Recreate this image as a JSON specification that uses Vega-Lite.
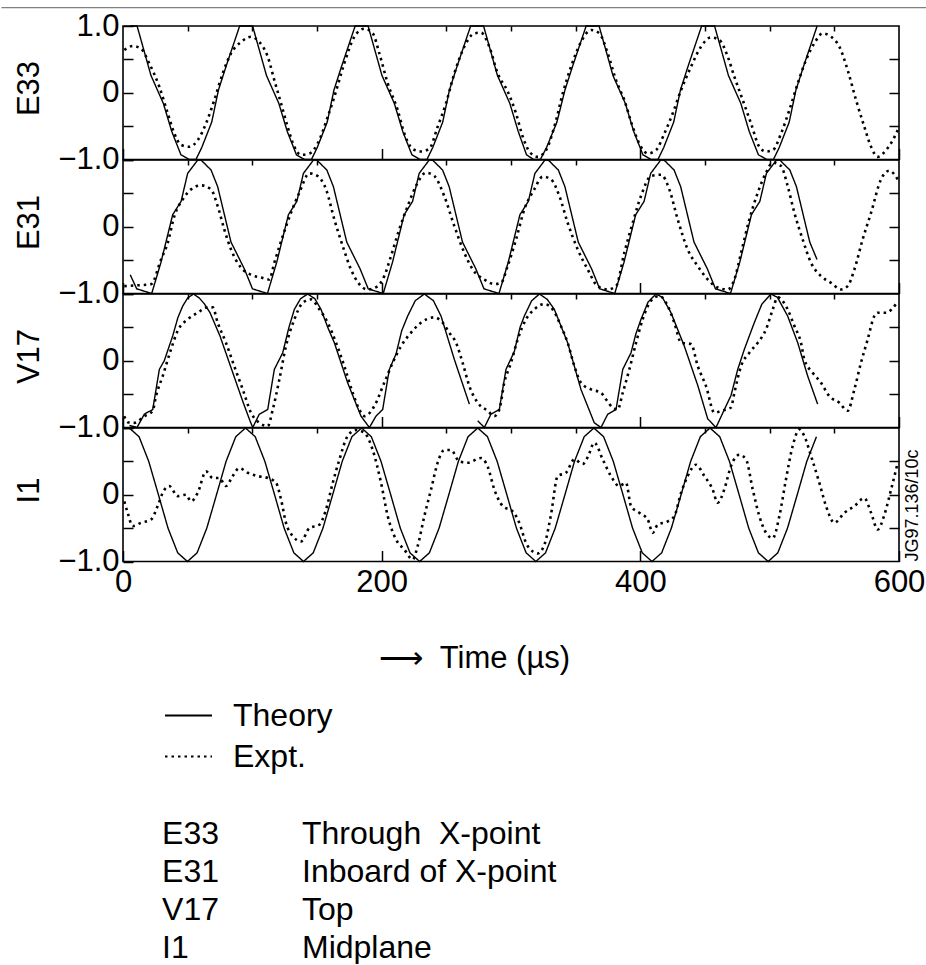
{
"$schema": "https://vega.github.io/schema/vega-lite/v6.json",
"padding": {"left": 0, "top": 6, "right": 0, "bottom": 0},
"background": "white",
"config": {
  "font": "Liberation Sans",
  "view": {"stroke": "#000", "strokeWidth": 1.6},
  "axis": {"labelFont": "Liberation Sans", "titleFont": "Liberation Sans", "labelColor": "#000", "titleColor": "#000", "tickColor": "#000", "titleFontWeight": "normal", "grid": false, "domain": false},
  "legend": {"labelFont": "Liberation Sans", "labelFontSize": 32, "labelColor": "#000", "symbolType": "stroke", "symbolSize": 2209, "symbolStrokeWidth": 1.8, "symbolStrokeColor": "#000", "labelOffset": 20, "rowPadding": 0, "padding": 0}
},
"datasets": {
"e33t": [{"t":5.6,"v":1},{"t":10.9,"v":1},{"t":16.4,"v":0.62},{"t":21.6,"v":0.26},{"t":31.2,"v":-0.16},{"t":37.7,"v":-0.58},{"t":44.8,"v":-0.93},{"t":51.2,"v":-1},{"t":56.4,"v":-1},{"t":60.9,"v":-0.82},{"t":68.6,"v":-0.44},{"t":73.8,"v":0.04},{"t":79.6,"v":0.39},
{"t":90.2,"v":1},{"t":100.2,"v":1},{"t":105.7,"v":0.62},{"t":110.9,"v":0.26},{"t":120.5,"v":-0.16},{"t":127,"v":-0.58},{"t":134.1,"v":-0.93},{"t":140.5,"v":-1},{"t":145.7,"v":-1},{"t":150.2,"v":-0.82},{"t":157.9,"v":-0.44},{"t":163.1,"v":0.04},{"t":168.9,"v":0.39},
{"t":179.5,"v":1},{"t":189.5,"v":1},{"t":195,"v":0.62},{"t":200.2,"v":0.26},{"t":209.8,"v":-0.16},{"t":216.3,"v":-0.58},{"t":223.4,"v":-0.93},{"t":229.8,"v":-1},{"t":235,"v":-1},{"t":239.5,"v":-0.82},{"t":247.2,"v":-0.44},{"t":252.4,"v":0.04},{"t":258.2,"v":0.39},
{"t":268.8,"v":1},{"t":278.8,"v":1},{"t":284.3,"v":0.62},{"t":289.5,"v":0.26},{"t":299.1,"v":-0.16},{"t":305.6,"v":-0.58},{"t":312,"v":-0.93},{"t":317.5,"v":-1},{"t":322.7,"v":-1},{"t":327.5,"v":-0.82},{"t":335.5,"v":-0.44},{"t":341.7,"v":0.04},{"t":347.5,"v":0.39},
{"t":358.1,"v":1},{"t":368.1,"v":1},{"t":373.6,"v":0.62},{"t":378.8,"v":0.26},{"t":388.4,"v":-0.16},{"t":394.9,"v":-0.58},{"t":402,"v":-0.93},{"t":408.4,"v":-1},{"t":413.6,"v":-1},{"t":418.1,"v":-0.82},{"t":425.8,"v":-0.44},{"t":431,"v":0.04},{"t":436.8,"v":0.39},
{"t":447.4,"v":1},{"t":457.4,"v":1},{"t":462.9,"v":0.62},{"t":468.1,"v":0.26},{"t":477.7,"v":-0.16},{"t":484.2,"v":-0.58},{"t":491.3,"v":-0.93},{"t":497.7,"v":-1},{"t":502.9,"v":-1},{"t":507.4,"v":-0.82},{"t":515.1,"v":-0.44},{"t":520.3,"v":0.04},{"t":526.1,"v":0.39},{"t":536.7,"v":1}],
"e33x": [{"t":1,"v":0.64},{"t":7.5,"v":0.7},{"t":13.9,"v":0.66},{"t":20.3,"v":0.44},{"t":28.1,"v":0.09},{"t":34.6,"v":-0.31},{"t":39.7,"v":-0.61},{"t":44.8,"v":-0.78},{"t":51.3,"v":-0.81},{"t":57.8,"v":-0.71},{"t":64.2,"v":-0.46},{"t":70.6,"v":-0.11},{"t":77.1,"v":0.29},{"t":83.5,"v":0.59},{"t":91.2,"v":0.76},{"t":99,"v":0.84},{"t":105.4,"v":0.76},{"t":111.9,"v":0.54},{"t":117,"v":0.19},{"t":122.2,"v":-0.16},{"t":127.3,"v":-0.51},{"t":132.5,"v":-0.81},{"t":137.6,"v":-0.93},{"t":144.1,"v":-0.91},{"t":150.5,"v":-0.76},{"t":158.3,"v":-0.36},{"t":163.4,"v":-0.06},{"t":171.1,"v":0.44},{"t":178.9,"v":0.84},{"t":186.6,"v":0.96},{"t":193.1,"v":0.89},{"t":198.2,"v":0.59},{"t":204.7,"v":0.14},{"t":212.4,"v":-0.26},{"t":217.5,"v":-0.61},{"t":224,"v":-0.84},{"t":230.4,"v":-0.88},{"t":236.8,"v":-0.84},{"t":243.3,"v":-0.51},{"t":249.7,"v":-0.16},{"t":256.2,"v":0.29},{"t":263.9,"v":0.69},{"t":271.6,"v":0.89},{"t":276.8,"v":0.9},{"t":283.2,"v":0.69},{"t":289.7,"v":0.29},{"t":297.4,"v":0.02},{"t":303.9,"v":-0.31},{"t":309.1,"v":-0.66},{"t":314.2,"v":-0.88},{"t":320.6,"v":-0.96},{"t":327.1,"v":-0.86},{"t":333.5,"v":-0.51},{"t":340,"v":-0.01},{"t":346.4,"v":0.39},{"t":354.1,"v":0.76},{"t":361.9,"v":0.94},{"t":368.3,"v":0.89},{"t":374.8,"v":0.59},{"t":381.2,"v":0.19},{"t":387.6,"v":-0.11},{"t":394.1,"v":-0.51},{"t":400.5,"v":-0.81},{"t":405.7,"v":-0.91},{"t":412.1,"v":-0.86},{"t":418.6,"v":-0.61},{"t":425,"v":-0.31},{"t":431.5,"v":0.04},{"t":439.2,"v":0.39},{"t":446.9,"v":0.69},{"t":454.7,"v":0.83},{"t":461.1,"v":0.79},{"t":467.6,"v":0.54},{"t":472.7,"v":0.24},{"t":479.2,"v":-0.11},{"t":485.6,"v":-0.46},{"t":492,"v":-0.81},{"t":497.2,"v":-0.88},{"t":502.4,"v":-0.86},{"t":508.8,"v":-0.61},{"t":515.2,"v":-0.26},{"t":521.7,"v":0.14},{"t":528.1,"v":0.49},{"t":534.5,"v":0.74},{"t":541,"v":0.89},{"t":547.4,"v":0.84},{"t":553.9,"v":0.69},{"t":560.3,"v":0.34},{"t":566.8,"v":-0.11},{"t":573.2,"v":-0.51},{"t":578.4,"v":-0.81},{"t":583.5,"v":-0.96},{"t":590,"v":-0.86},{"t":595.2,"v":-0.71},{"t":599,"v":-0.56}],
"e31t": [{"t":5.6,"v":-0.72},{"t":10.6,"v":-0.93},
{"t":22.2,"v":-1},{"t":29.4,"v":-0.53},{"t":38.4,"v":0.18},{"t":44.9,"v":0.38},{"t":50,"v":0.8},{"t":57.8,"v":1},{"t":60.3,"v":1},{"t":68.1,"v":0.85},{"t":73.2,"v":0.6},{"t":83.5,"v":-0.23},{"t":93.8,"v":-0.63},{"t":100.1,"v":-0.93},
{"t":111.7,"v":-1},{"t":118.9,"v":-0.53},{"t":127.9,"v":0.18},{"t":134.4,"v":0.38},{"t":139.5,"v":0.8},{"t":147.3,"v":1},{"t":149.8,"v":1},{"t":157.6,"v":0.85},{"t":162.7,"v":0.6},{"t":173,"v":-0.23},{"t":183.3,"v":-0.63},{"t":189.6,"v":-0.93},
{"t":201.2,"v":-1},{"t":208.4,"v":-0.53},{"t":217.4,"v":0.18},{"t":223.9,"v":0.38},{"t":229,"v":0.8},{"t":236.8,"v":1},{"t":239.3,"v":1},{"t":247.1,"v":0.85},{"t":252.2,"v":0.6},{"t":262.5,"v":-0.23},{"t":272.8,"v":-0.63},{"t":279.1,"v":-0.93},
{"t":290.7,"v":-1},{"t":297.9,"v":-0.53},{"t":306.9,"v":0.18},{"t":313.4,"v":0.38},{"t":318.5,"v":0.8},{"t":326.3,"v":1},{"t":328.8,"v":1},{"t":336.6,"v":0.85},{"t":341.7,"v":0.6},{"t":352,"v":-0.23},{"t":362.3,"v":-0.63},{"t":368.6,"v":-0.93},
{"t":380.2,"v":-1},{"t":387.4,"v":-0.53},{"t":396.4,"v":0.18},{"t":402.9,"v":0.38},{"t":408,"v":0.8},{"t":415.8,"v":1},{"t":418.3,"v":1},{"t":426.1,"v":0.85},{"t":431.2,"v":0.6},{"t":441.5,"v":-0.23},{"t":451.8,"v":-0.63},{"t":458.1,"v":-0.93},
{"t":469.7,"v":-1},{"t":476.9,"v":-0.53},{"t":485.9,"v":0.18},{"t":492.4,"v":0.38},{"t":497.5,"v":0.8},{"t":505.3,"v":1},{"t":507.8,"v":1},{"t":515.6,"v":0.85},{"t":520.7,"v":0.6},{"t":531,"v":-0.23},{"t":536.6,"v":-0.49}],
"e31x": [{"t":1,"v":-0.89},{"t":8.7,"v":-0.88},{"t":21.7,"v":-0.86},{"t":29.4,"v":-0.49},{"t":34.6,"v":-0.24},{"t":39.7,"v":0.16},{"t":46.2,"v":0.41},{"t":52.6,"v":0.56},{"t":60.3,"v":0.62},{"t":68,"v":0.56},{"t":73.2,"v":0.31},{"t":78.3,"v":-0.04},{"t":83.5,"v":-0.34},{"t":91.2,"v":-0.61},{"t":99,"v":-0.72},{"t":106.7,"v":-0.76},{"t":113.1,"v":-0.79},{"t":117,"v":-0.54},{"t":123.5,"v":-0.14},{"t":129.9,"v":0.21},{"t":136.3,"v":0.51},{"t":144.1,"v":0.8},{"t":150.5,"v":0.76},{"t":157,"v":0.56},{"t":163.4,"v":0.11},{"t":169.9,"v":-0.29},{"t":176.3,"v":-0.64},{"t":182.7,"v":-0.86},{"t":189.2,"v":-0.94},{"t":196.9,"v":-0.89},{"t":202,"v":-0.74},{"t":207.2,"v":-0.44},{"t":213.6,"v":-0.04},{"t":220.1,"v":0.31},{"t":226.5,"v":0.61},{"t":234.3,"v":0.81},{"t":240.7,"v":0.76},{"t":248.4,"v":0.46},{"t":256.2,"v":0.01},{"t":263.9,"v":-0.39},{"t":270.4,"v":-0.64},{"t":279.4,"v":-0.79},{"t":287.1,"v":-0.86},{"t":292.3,"v":-0.84},{"t":297.4,"v":-0.59},{"t":303.9,"v":-0.19},{"t":310.3,"v":0.26},{"t":318,"v":0.56},{"t":324.5,"v":0.75},{"t":330.9,"v":0.71},{"t":337.4,"v":0.46},{"t":343.8,"v":0.06},{"t":351.6,"v":-0.34},{"t":359.3,"v":-0.64},{"t":367,"v":-0.89},{"t":374.8,"v":-0.94},{"t":381.2,"v":-0.89},{"t":387.6,"v":-0.39},{"t":394.1,"v":0.06},{"t":400.5,"v":0.46},{"t":408.3,"v":0.76},{"t":416,"v":0.78},{"t":422.4,"v":0.56},{"t":428.9,"v":0.11},{"t":436.6,"v":-0.34},{"t":444.4,"v":-0.59},{"t":452.1,"v":-0.79},{"t":459.8,"v":-0.91},{"t":467.6,"v":-0.94},{"t":472.7,"v":-0.79},{"t":477.9,"v":-0.39},{"t":484.3,"v":0.11},{"t":490.8,"v":0.51},{"t":497.2,"v":0.81},{"t":502.3,"v":0.96},{"t":508.8,"v":0.91},{"t":513.9,"v":0.61},{"t":519.1,"v":0.21},{"t":525.5,"v":-0.19},{"t":532,"v":-0.54},{"t":539.7,"v":-0.74},{"t":547.4,"v":-0.84},{"t":555.2,"v":-0.94},{"t":560.3,"v":-0.89},{"t":565.5,"v":-0.64},{"t":571.9,"v":-0.19},{"t":578.4,"v":0.21},{"t":586.1,"v":0.71},{"t":592.5,"v":0.84},{"t":599,"v":0.71}],
"v17t": [{"seg":"a","t":5,"v":-0.97},{"seg":"a","t":10.8,"v":-1},{"seg":"a","t":16.5,"v":-0.8},{"seg":"a","t":23,"v":-0.73},{"seg":"a","t":28.1,"v":-0.13},{"seg":"a","t":31.9,"v":0},{"seg":"a","t":38.4,"v":0.37},{"seg":"a","t":42.5,"v":0.65},{"seg":"a","t":46.2,"v":0.82},{"seg":"a","t":50,"v":0.94},{"seg":"a","t":54.5,"v":1},{"seg":"a","t":59,"v":0.94},{"seg":"a","t":63,"v":0.85},{"seg":"a","t":67.3,"v":0.72},{"seg":"a","t":75,"v":0.37},{"seg":"a","t":84,"v":-0.13},{"seg":"a","t":93,"v":-0.63},{"seg":"a","t":98.2,"v":-0.9},
{"seg":"a","t":100.3,"v":-1},{"seg":"a","t":105.4,"v":-0.8},{"seg":"a","t":111.9,"v":-0.73},{"seg":"a","t":117,"v":-0.13},{"seg":"a","t":123.5,"v":0.12},{"seg":"a","t":128.3,"v":0.5},{"seg":"a","t":132.5,"v":0.77},{"seg":"a","t":137.3,"v":0.93},{"seg":"a","t":142.8,"v":1},{"seg":"a","t":148.3,"v":0.93},{"seg":"a","t":153.1,"v":0.77},{"seg":"a","t":158.3,"v":0.5},{"seg":"a","t":163.4,"v":0.27},{"seg":"a","t":173.7,"v":-0.33},{"seg":"a","t":184,"v":-0.83},
{"seg":"a","t":190.5,"v":-1},{"seg":"a","t":195.6,"v":-0.83},{"seg":"a","t":200.8,"v":-0.73},{"seg":"a","t":205.9,"v":-0.13},{"seg":"a","t":211.1,"v":0.1},{"seg":"a","t":215.5,"v":0.45},{"seg":"a","t":220.1,"v":0.67},{"seg":"a","t":226,"v":0.9},{"seg":"a","t":233,"v":1},{"seg":"a","t":240,"v":0.9},{"seg":"a","t":245.9,"v":0.67},{"seg":"a","t":256.2,"v":0.02},{"seg":"a","t":267.8,"v":-0.65},
{"seg":"b","t":274.3,"v":-0.9},{"seg":"b","t":279.4,"v":-1},{"seg":"b","t":284.5,"v":-0.8},{"seg":"b","t":291,"v":-0.73},{"seg":"b","t":296.1,"v":-0.13},{"seg":"b","t":302.6,"v":0.14},{"seg":"b","t":307,"v":0.5},{"seg":"b","t":310.3,"v":0.67},{"seg":"b","t":316,"v":0.9},{"seg":"b","t":322,"v":1},{"seg":"b","t":328,"v":0.92},{"seg":"b","t":333.5,"v":0.77},{"seg":"b","t":343.8,"v":0.27},{"seg":"b","t":354.1,"v":-0.43},{"seg":"b","t":364.4,"v":-0.93},
{"seg":"b","t":369.6,"v":-1},{"seg":"b","t":374.8,"v":-0.8},{"seg":"b","t":381.2,"v":-0.73},{"seg":"b","t":386.4,"v":-0.13},{"seg":"b","t":392.8,"v":0.12},{"seg":"b","t":396.5,"v":0.4},{"seg":"b","t":400.5,"v":0.62},{"seg":"b","t":406,"v":0.88},{"seg":"b","t":412.1,"v":1},{"seg":"b","t":417,"v":0.95},{"seg":"b","t":423.7,"v":0.72},{"seg":"b","t":434,"v":0.22},{"seg":"b","t":444.4,"v":-0.37},{"seg":"b","t":452.1,"v":-0.87},
{"seg":"b","t":458.5,"v":-1},{"seg":"b","t":465,"v":-0.73},{"seg":"b","t":470.1,"v":-0.52},{"seg":"b","t":475.3,"v":-0.13},{"seg":"b","t":480.4,"v":0.17},{"seg":"b","t":488.1,"v":0.57},{"seg":"b","t":494,"v":0.85},{"seg":"b","t":501,"v":1},{"seg":"b","t":506,"v":0.95},{"seg":"b","t":513.9,"v":0.67},{"seg":"b","t":521.7,"v":0.27},{"seg":"b","t":529.4,"v":-0.23},{"seg":"b","t":537.1,"v":-0.65}],
"v17x": [{"t":1,"v":-0.83},{"t":3.6,"v":-0.92},{"t":8.7,"v":-0.93},{"t":16.5,"v":-0.83},{"t":23,"v":-0.75},{"t":25.5,"v":-0.53},{"t":30.7,"v":-0.23},{"t":37.1,"v":0.17},{"t":42.3,"v":0.45},{"t":50,"v":0.62},{"t":57.8,"v":0.72},{"t":65.5,"v":0.8},{"t":69.4,"v":0.8},{"t":73.2,"v":0.57},{"t":79.6,"v":0.27},{"t":86,"v":-0.08},{"t":92.6,"v":-0.43},{"t":99,"v":-0.78},{"t":105.4,"v":-0.93},{"t":111.9,"v":-0.98},{"t":115.8,"v":-0.73},{"t":120.9,"v":-0.28},{"t":126,"v":0.22},{"t":132.5,"v":0.62},{"t":139,"v":0.87},{"t":145.4,"v":0.92},{"t":151.8,"v":0.77},{"t":158.3,"v":0.57},{"t":164.7,"v":0.27},{"t":171.1,"v":-0.08},{"t":177.6,"v":-0.48},{"t":182.7,"v":-0.73},{"t":186.6,"v":-0.83},{"t":194.3,"v":-0.68},{"t":202,"v":-0.33},{"t":208.5,"v":-0.03},{"t":215,"v":0.22},{"t":222.7,"v":0.42},{"t":230.4,"v":0.57},{"t":240.7,"v":0.65},{"t":247.2,"v":0.57},{"t":252.3,"v":0.42},{"t":257.5,"v":0.27},{"t":262.6,"v":-0.03},{"t":267.8,"v":-0.38},{"t":274.3,"v":-0.63},{"t":282,"v":-0.75},{"t":287.1,"v":-0.83},{"t":291,"v":-0.73},{"t":294.8,"v":-0.33},{"t":300,"v":-0.03},{"t":305.2,"v":0.32},{"t":311.6,"v":0.62},{"t":318,"v":0.77},{"t":325.8,"v":0.85},{"t":332.2,"v":0.77},{"t":338.6,"v":0.52},{"t":343.8,"v":0.27},{"t":349,"v":-0.08},{"t":354.1,"v":-0.33},{"t":361.9,"v":-0.43},{"t":369.6,"v":-0.48},{"t":373.5,"v":-0.58},{"t":378.6,"v":-0.7},{"t":382.5,"v":-0.73},{"t":386.4,"v":-0.48},{"t":391.5,"v":-0.13},{"t":396.7,"v":0.27},{"t":401.8,"v":0.62},{"t":408.3,"v":0.9},{"t":414.7,"v":0.97},{"t":421.2,"v":0.82},{"t":426.3,"v":0.57},{"t":431.5,"v":0.27},{"t":439.2,"v":0.25},{"t":444.4,"v":-0.08},{"t":450.8,"v":-0.38},{"t":457.3,"v":-0.78},{"t":462.4,"v":-0.75},{"t":470.1,"v":-0.7},{"t":472.7,"v":-0.48},{"t":477.9,"v":-0.08},{"t":484.3,"v":0.12},{"t":490.8,"v":0.27},{"t":497.2,"v":0.47},{"t":502.4,"v":0.77},{"t":506.2,"v":0.95},{"t":513.9,"v":0.77},{"t":519.1,"v":0.52},{"t":524.2,"v":0.27},{"t":526.8,"v":0.02},{"t":533.3,"v":-0.18},{"t":539.7,"v":-0.33},{"t":546.1,"v":-0.53},{"t":553.9,"v":-0.63},{"t":560.3,"v":-0.75},{"t":565.5,"v":-0.43},{"t":570.6,"v":-0.03},{"t":575.8,"v":0.32},{"t":580.9,"v":0.67},{"t":583.5,"v":0.72},{"t":590,"v":0.72},{"t":597.7,"v":0.85}],
"i1t": [{"t":1,"v":0.99},{"t":4.9,"v":1},{"t":12.4,"v":0.87},{"t":19.9,"v":0.5},{"t":27.4,"v":0},{"t":34.8,"v":-0.5},{"t":42.3,"v":-0.87},{"t":49.8,"v":-1},{"t":57.3,"v":-0.87},{"t":64.8,"v":-0.5},{"t":72.3,"v":0},{"t":79.7,"v":0.5},{"t":87.2,"v":0.87},{"t":94.7,"v":1},{"t":102.2,"v":0.87},{"t":109.7,"v":0.5},{"t":117.2,"v":0},{"t":124.6,"v":-0.5},{"t":132.1,"v":-0.87},{"t":139.6,"v":-1},{"t":147.1,"v":-0.87},{"t":154.6,"v":-0.5},{"t":162.1,"v":0},{"t":169.5,"v":0.5},{"t":177,"v":0.87},{"t":184.5,"v":1},{"t":192,"v":0.87},{"t":199.5,"v":0.5},{"t":207,"v":0},{"t":214.4,"v":-0.5},{"t":221.9,"v":-0.87},{"t":229.4,"v":-1},{"t":236.9,"v":-0.87},{"t":244.4,"v":-0.5},{"t":251.9,"v":0},{"t":259.3,"v":0.5},{"t":266.8,"v":0.87},{"t":274.3,"v":1},{"t":281.8,"v":0.87},{"t":289.3,"v":0.5},{"t":296.8,"v":0},{"t":304.2,"v":-0.5},{"t":311.7,"v":-0.87},{"t":319.2,"v":-1},{"t":326.7,"v":-0.87},{"t":334.2,"v":-0.5},{"t":341.7,"v":0},{"t":349.1,"v":0.5},{"t":356.6,"v":0.87},{"t":364.1,"v":1},{"t":371.6,"v":0.87},{"t":379.1,"v":0.5},{"t":386.6,"v":0},{"t":394,"v":-0.5},{"t":401.5,"v":-0.87},{"t":409,"v":-1},{"t":416.5,"v":-0.87},{"t":424,"v":-0.5},{"t":431.5,"v":0},{"t":438.9,"v":0.5},{"t":446.4,"v":0.87},{"t":453.9,"v":1},{"t":461.4,"v":0.87},{"t":468.9,"v":0.5},{"t":476.4,"v":0},{"t":483.8,"v":-0.5},{"t":491.3,"v":-0.87},{"t":498.8,"v":-1},{"t":506.3,"v":-0.87},{"t":513.8,"v":-0.5},{"t":521.3,"v":0},{"t":528.7,"v":0.5},{"t":536.2,"v":0.87}],
"i1x": [{"t":1,"v":-0.1},{"t":3.6,"v":-0.27},{"t":7.5,"v":-0.47},{"t":13.9,"v":-0.42},{"t":21.7,"v":-0.37},{"t":26.8,"v":-0.17},{"t":30.7,"v":0.03},{"t":35.8,"v":0.13},{"t":42.3,"v":-0.02},{"t":48.7,"v":0},{"t":52.6,"v":-0.1},{"t":57.8,"v":0.03},{"t":64.2,"v":0.35},{"t":69.4,"v":0.25},{"t":74.5,"v":0.25},{"t":79.6,"v":0.13},{"t":84.8,"v":0.28},{"t":89.9,"v":0.4},{"t":96.4,"v":0.33},{"t":104.1,"v":0.28},{"t":111.9,"v":0.25},{"t":118.3,"v":0.18},{"t":122.2,"v":-0.07},{"t":126,"v":-0.42},{"t":131.2,"v":-0.62},{"t":137.6,"v":-0.7},{"t":144.1,"v":-0.5},{"t":151.8,"v":-0.45},{"t":157,"v":-0.22},{"t":162.2,"v":0.18},{"t":167.2,"v":0.52},{"t":173.7,"v":0.88},{"t":180.2,"v":0.97},{"t":186.6,"v":0.93},{"t":193.1,"v":0.67},{"t":199.5,"v":0.18},{"t":204.7,"v":-0.32},{"t":211.1,"v":-0.67},{"t":217.5,"v":-0.82},{"t":224,"v":-0.97},{"t":227.8,"v":-0.77},{"t":233,"v":-0.32},{"t":238.2,"v":0.08},{"t":243.3,"v":0.48},{"t":248.4,"v":0.67},{"t":253.6,"v":0.67},{"t":260,"v":0.5},{"t":266.5,"v":0.48},{"t":276.8,"v":0.55},{"t":282,"v":0.42},{"t":287.1,"v":0.08},{"t":293.6,"v":-0.17},{"t":301.3,"v":-0.25},{"t":306.4,"v":-0.42},{"t":311.6,"v":-0.72},{"t":316.8,"v":-0.85},{"t":320.6,"v":-0.88},{"t":325.8,"v":-0.75},{"t":330.9,"v":-0.3},{"t":336.1,"v":0.28},{"t":342.5,"v":0.33},{"t":349,"v":0.53},{"t":355.4,"v":0.46},{"t":359.5,"v":0.57},{"t":364.4,"v":0.78},{"t":370.9,"v":0.53},{"t":377.3,"v":0.28},{"t":383.7,"v":0.13},{"t":388.9,"v":0.18},{"t":392.8,"v":-0.17},{"t":399.2,"v":-0.27},{"t":405.7,"v":-0.37},{"t":409.6,"v":-0.57},{"t":413.4,"v":-0.45},{"t":421.2,"v":-0.4},{"t":426.3,"v":-0.32},{"t":431.5,"v":0.03},{"t":436.6,"v":0.28},{"t":443,"v":0.45},{"t":449.5,"v":0.28},{"t":455.9,"v":0.08},{"t":459.8,"v":-0.12},{"t":464.9,"v":0.08},{"t":470.1,"v":0.43},{"t":476.5,"v":0.6},{"t":481.7,"v":0.53},{"t":486.9,"v":0.08},{"t":492,"v":-0.32},{"t":497.2,"v":-0.57},{"t":502.4,"v":-0.65},{"t":507.5,"v":-0.32},{"t":512.6,"v":0.23},{"t":517.8,"v":0.73},{"t":523,"v":0.98},{"t":526.8,"v":0.88},{"t":532,"v":0.58},{"t":538.4,"v":0.18},{"t":543.6,"v":-0.17},{"t":550,"v":-0.42},{"t":557.8,"v":-0.27},{"t":565.5,"v":-0.17},{"t":573.2,"v":-0.05},{"t":578.4,"v":-0.27},{"t":583.5,"v":-0.52},{"t":588.7,"v":-0.3},{"t":593.9,"v":0.08},{"t":599,"v":0.48}],
"probes": [{"probe":"E33","where":"Through\u00a0 X-point"},{"probe":"E31","where":"Inboard of X-point"},{"probe":"V17","where":"Top"},{"probe":"I1","where":"Midplane"}]
},
"spacing": 0,
"bounds": "flush",
"resolve": {"scale": {"x": "independent", "y": "independent", "strokeDash": "shared"}, "legend": {"strokeDash": "shared"}},
"vconcat": [
{
 "width": 776, "height": 133.5,
 "resolve": {"scale": {"x": "independent", "y": "independent", "strokeDash": "shared"}},
 "layer": [
  {"data": {"values": [{}]}, "mark": {"type": "rule", "color": "#808080", "strokeWidth": 1.2},
   "encoding": {"x": {"datum": -94, "type": "quantitative", "scale": {"domain": [0, 600], "nice": false, "zero": false}, "axis": null}, "x2": {"datum": 622.2}, "y": {"datum": 1.275, "type": "quantitative", "scale": {"domain": [-1, 1], "nice": false, "zero": false}, "axis": null}}},
  {"data": {"name": "e33t"}, "mark": {"type": "line", "color": "#000", "strokeWidth": 1.4},
   "encoding": {
    "x": {"field": "t", "type": "quantitative", "scale": {"domain": [0, 600], "nice": false, "zero": false}, "axis": {"values": [0, 200, 400, 600], "tickSize": -11, "tickWidth": 1.5, "labels": false, "title": null}},
    "y": {"field": "v", "type": "quantitative", "scale": {"domain": [-1, 1], "nice": false, "zero": false}, "axis": {"values": [-1, -0.5, 0, 0.5, 1], "tickSize": -10, "tickWidth": 1.5, "labelExpr": "datum.value == 0 ? '0' : datum.value == -1 ? '−1.0' : datum.value == 1 ? '1.0' : ''", "labelFontSize": 31, "labelPadding": 14, "labelOverlap": false, "labelFlush": false, "labelBound": false, "title": "E33", "titleFontSize": 31, "titleAngle": 270, "titleX": -94, "titleY": 62, "titleAlign": "center", "titleBaseline": "middle"}},
    "strokeDash": {"datum": "Theory", "type": "nominal", "scale": {"domain": ["Theory", "Expt."], "range": [[1, 0], [2.5, 4]]}, "legend": {"title": null, "orient": "none", "legendX": 41, "legendY": 665}}}},
  {"data": {"name": "e33x"}, "mark": {"type": "line", "color": "#000", "strokeWidth": 2.6, "interpolate": "monotone"},
   "encoding": {
    "x": {"field": "t", "type": "quantitative", "scale": {"domain": [0, 600], "nice": false, "zero": false}, "axis": {"values": [50, 100, 150, 250, 300, 350, 450, 500, 550], "tickSize": -5, "tickWidth": 1.5, "labels": false, "title": null}},
    "y": {"field": "v", "type": "quantitative", "scale": {"domain": [-1, 1], "nice": false, "zero": false}, "axis": {"orient": "right", "values": [-0.5, 0, 0.5], "tickSize": -10, "tickWidth": 1.5, "labels": false, "title": null}},
    "strokeDash": {"datum": "Expt.", "type": "nominal", "scale": {"domain": ["Theory", "Expt."], "range": [[1, 0], [2.5, 4]]}, "legend": {"title": null, "orient": "none", "legendX": 41, "legendY": 665}}}}
 ]
},
{
 "width": 776, "height": 133.5,
 "resolve": {"scale": {"x": "independent", "y": "independent", "strokeDash": "shared"}},
 "layer": [
  {"data": {"name": "e31t"}, "mark": {"type": "line", "color": "#000", "strokeWidth": 1.4},
   "encoding": {
    "x": {"field": "t", "type": "quantitative", "scale": {"domain": [0, 600], "nice": false, "zero": false}, "axis": {"values": [0, 200, 400, 600], "tickSize": -11, "tickWidth": 1.5, "labels": false, "title": null}},
    "y": {"field": "v", "type": "quantitative", "scale": {"domain": [-1, 1], "nice": false, "zero": false}, "axis": {"values": [-1, -0.5, 0, 0.5, 1], "tickSize": -10, "tickWidth": 1.5, "labelExpr": "datum.value == 0 ? '0' : datum.value == -1 ? '−1.0' : ''", "labelFontSize": 31, "labelPadding": 14, "labelOverlap": false, "labelFlush": false, "labelBound": false, "title": "E31", "titleFontSize": 31, "titleAngle": 270, "titleX": -94, "titleY": 62, "titleAlign": "center", "titleBaseline": "middle"}},
    "strokeDash": {"datum": "Theory", "type": "nominal", "scale": {"domain": ["Theory", "Expt."], "range": [[1, 0], [2.5, 4]]}, "legend": {"title": null, "orient": "none", "legendX": 41, "legendY": 665}}}},
  {"data": {"name": "e31x"}, "mark": {"type": "line", "color": "#000", "strokeWidth": 2.6, "interpolate": "monotone"},
   "encoding": {
    "x": {"field": "t", "type": "quantitative", "scale": {"domain": [0, 600], "nice": false, "zero": false}, "axis": {"values": [50, 100, 150, 250, 300, 350, 450, 500, 550], "tickSize": -5, "tickWidth": 1.5, "labels": false, "title": null}},
    "y": {"field": "v", "type": "quantitative", "scale": {"domain": [-1, 1], "nice": false, "zero": false}, "axis": {"orient": "right", "values": [-0.5, 0, 0.5], "tickSize": -10, "tickWidth": 1.5, "labels": false, "title": null}},
    "strokeDash": {"datum": "Expt.", "type": "nominal", "scale": {"domain": ["Theory", "Expt."], "range": [[1, 0], [2.5, 4]]}, "legend": {"title": null, "orient": "none", "legendX": 41, "legendY": 665}}}}
 ]
},
{
 "width": 776, "height": 133.5,
 "resolve": {"scale": {"x": "independent", "y": "independent", "strokeDash": "shared"}},
 "layer": [
  {"data": {"name": "v17t"}, "mark": {"type": "line", "color": "#000", "strokeWidth": 1.4},
   "encoding": {
    "x": {"field": "t", "type": "quantitative", "scale": {"domain": [0, 600], "nice": false, "zero": false}, "axis": {"values": [0, 200, 400, 600], "tickSize": -11, "tickWidth": 1.5, "labels": false, "title": null}},
    "y": {"field": "v", "type": "quantitative", "scale": {"domain": [-1, 1], "nice": false, "zero": false}, "axis": {"values": [-1, -0.5, 0, 0.5, 1], "tickSize": -10, "tickWidth": 1.5, "labelExpr": "datum.value == 0 ? '0' : datum.value == -1 ? '−1.0' : ''", "labelFontSize": 31, "labelPadding": 14, "labelOverlap": false, "labelFlush": false, "labelBound": false, "title": "V17", "titleFontSize": 31, "titleAngle": 270, "titleX": -94, "titleY": 62, "titleAlign": "center", "titleBaseline": "middle"}},
    "detail": {"field": "seg", "type": "nominal"},
    "strokeDash": {"datum": "Theory", "type": "nominal", "scale": {"domain": ["Theory", "Expt."], "range": [[1, 0], [2.5, 4]]}, "legend": {"title": null, "orient": "none", "legendX": 41, "legendY": 665}}}},
  {"data": {"name": "v17x"}, "mark": {"type": "line", "color": "#000", "strokeWidth": 2.6, "interpolate": "monotone"},
   "encoding": {
    "x": {"field": "t", "type": "quantitative", "scale": {"domain": [0, 600], "nice": false, "zero": false}, "axis": {"values": [50, 100, 150, 250, 300, 350, 450, 500, 550], "tickSize": -5, "tickWidth": 1.5, "labels": false, "title": null}},
    "y": {"field": "v", "type": "quantitative", "scale": {"domain": [-1, 1], "nice": false, "zero": false}, "axis": {"orient": "right", "values": [-0.5, 0, 0.5], "tickSize": -10, "tickWidth": 1.5, "labels": false, "title": null}},
    "strokeDash": {"datum": "Expt.", "type": "nominal", "scale": {"domain": ["Theory", "Expt."], "range": [[1, 0], [2.5, 4]]}, "legend": {"title": null, "orient": "none", "legendX": 41, "legendY": 665}}}}
 ]
},
{
 "width": 776, "height": 133.5,
 "resolve": {"scale": {"x": "independent", "y": "independent", "strokeDash": "shared"}},
 "layer": [
  {"data": {"name": "i1t"}, "mark": {"type": "line", "color": "#000", "strokeWidth": 1.4},
   "encoding": {
    "x": {"field": "t", "type": "quantitative", "scale": {"domain": [0, 600], "nice": false, "zero": false}, "axis": {"values": [0, 200, 400, 600], "tickSize": -11, "tickWidth": 1.5, "labels": true, "labelFontSize": 31, "labelPadding": 17, "labelFlush": false, "labelOverlap": false, "title": "⟶\u00a0\u00a0Time (µs)", "titleFontSize": 31, "titleX": 255, "titleY": 97, "titleAlign": "left", "titleBaseline": "middle"}},
    "y": {"field": "v", "type": "quantitative", "scale": {"domain": [-1, 1], "nice": false, "zero": false}, "axis": {"values": [-1, -0.5, 0, 0.5, 1], "tickSize": -10, "tickWidth": 1.5, "labelExpr": "datum.value == 0 ? '0' : datum.value == -1 ? '−1.0' : ''", "labelFontSize": 31, "labelPadding": 14, "labelOverlap": false, "labelFlush": false, "labelBound": false, "title": "I1", "titleFontSize": 31, "titleAngle": 270, "titleX": -94, "titleY": 62, "titleAlign": "center", "titleBaseline": "middle"}},
    "strokeDash": {"datum": "Theory", "type": "nominal", "scale": {"domain": ["Theory", "Expt."], "range": [[1, 0], [2.5, 4]]}, "legend": {"title": null, "orient": "none", "legendX": 41, "legendY": 665}}}},
  {"data": {"name": "i1x"}, "mark": {"type": "line", "color": "#000", "strokeWidth": 2.6, "interpolate": "monotone"},
   "encoding": {
    "x": {"field": "t", "type": "quantitative", "scale": {"domain": [0, 600], "nice": false, "zero": false}, "axis": {"values": [50, 100, 150, 250, 300, 350, 450, 500, 550], "tickSize": -5, "tickWidth": 1.5, "labels": false, "title": null}},
    "y": {"field": "v", "type": "quantitative", "scale": {"domain": [-1, 1], "nice": false, "zero": false}, "axis": {"orient": "right", "values": [-0.5, 0, 0.5], "tickSize": -10, "tickWidth": 1.5, "labels": false, "title": "JG97.136/10c", "titleFontSize": 18, "titleAngle": 270, "titleX": 13, "titleY": 133, "titleAlign": "left", "titleBaseline": "middle"}},
    "strokeDash": {"datum": "Expt.", "type": "nominal", "scale": {"domain": ["Theory", "Expt."], "range": [[1, 0], [2.5, 4]]}, "legend": {"title": null, "orient": "none", "legendX": 41, "legendY": 665}}}}
 ]
},
{
 "width": 776, "height": 400,
 "view": {"stroke": null},
 "data": {"name": "probes"},
 "layer": [
  {"mark": {"type": "text", "align": "left", "baseline": "middle", "fontSize": 32, "font": "Liberation Sans", "color": "#000"},
   "encoding": {"x": {"datum": 30.2, "type": "quantitative", "scale": {"domain": [0, 600], "nice": false, "zero": false}, "axis": null},
    "y": {"field": "probe", "type": "nominal", "sort": null, "scale": {"type": "point", "domain": ["E33", "E31", "V17", "I1"], "range": [272, 386], "padding": 0}, "axis": null},
    "text": {"field": "probe"}}},
  {"mark": {"type": "text", "align": "left", "baseline": "middle", "fontSize": 32, "font": "Liberation Sans", "color": "#000"},
   "encoding": {"x": {"datum": 138.4, "type": "quantitative", "scale": {"domain": [0, 600], "nice": false, "zero": false}, "axis": null},
    "y": {"field": "probe", "type": "nominal", "sort": null, "scale": {"type": "point", "domain": ["E33", "E31", "V17", "I1"], "range": [272, 386], "padding": 0}, "axis": null},
    "text": {"field": "where"}}}
 ]
}
]
}
